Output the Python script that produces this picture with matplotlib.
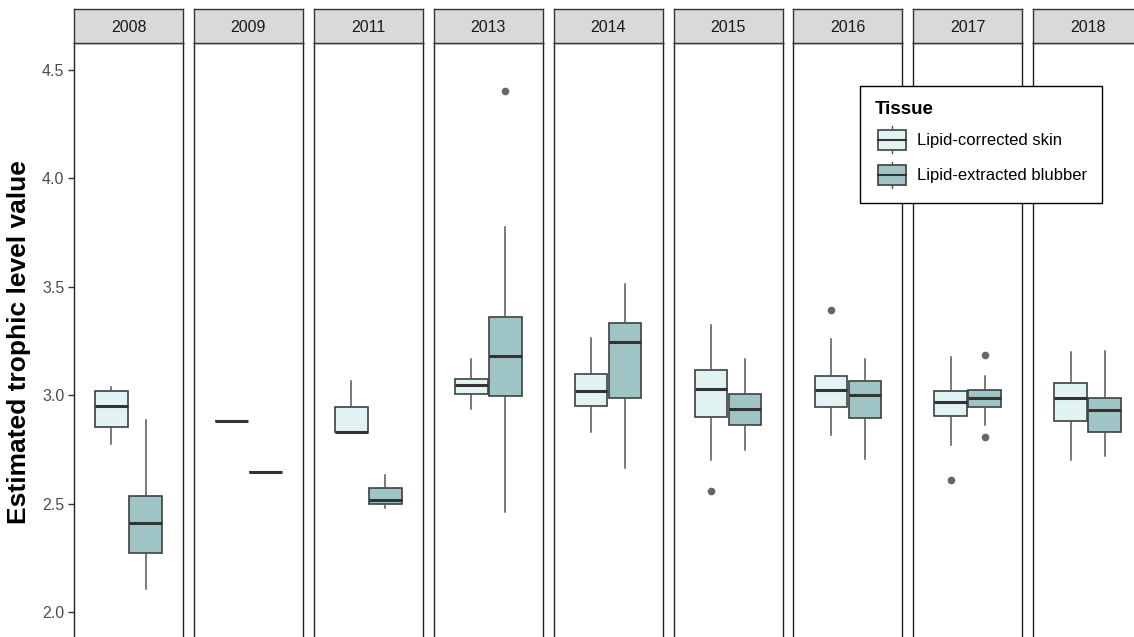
import matplotlib
matplotlib.use("Agg")
import matplotlib.pyplot as plt
from matplotlib.patches import Rectangle, Patch
from matplotlib.lines import Line2D
from matplotlib.legend_handler import HandlerBase

plt.rcParams['font.family'] = ['Liberation Sans', 'DejaVu Sans']

years = ["2008", "2009", "2011", "2013", "2014", "2015", "2016", "2017", "2018"]
tissues = ["Lipid-corrected skin", "Lipid-extracted blubber"]

# five-number summaries per year: (whisker low, q1, median, q3, whisker high)
skin_stats = [
    (2.777, 2.855, 2.951, 3.018, 3.038),
    (2.879, 2.879, 2.879, 2.879, 2.879),
    (2.832, 2.832, 2.832, 2.946, 3.065),
    (2.937, 3.005, 3.049, 3.075, 3.168),
    (2.829, 2.952, 3.020, 3.097, 3.266),
    (2.700, 2.900, 3.028, 3.115, 3.322),
    (2.815, 2.946, 3.022, 3.088, 3.257),
    (2.771, 2.902, 2.969, 3.018, 3.174),
    (2.700, 2.881, 2.989, 3.057, 3.200),
]
blubber_stats = [
    (2.106, 2.270, 2.409, 2.535, 2.885),
    (2.645, 2.645, 2.645, 2.645, 2.645),
    (2.480, 2.496, 2.517, 2.572, 2.632),
    (2.460, 2.998, 3.183, 3.360, 3.777),
    (2.662, 2.985, 3.246, 3.334, 3.511),
    (2.746, 2.862, 2.937, 3.006, 3.168),
    (2.705, 2.895, 3.001, 3.065, 3.168),
    (2.862, 2.946, 2.989, 3.024, 3.089),
    (2.720, 2.831, 2.932, 2.986, 3.206),
]
skin_outliers = [[], [], [], [], [], [2.558], [3.392], [2.611], []]
blubber_outliers = [[], [], [], [4.403], [], [], [], [3.186, 2.805], []]

fills = ["#E1F3F3", "#9FC4C5"]
edge = "#404040"

W, H = 1134, 637
fig = plt.figure(figsize=(W / 100, H / 100), dpi=100)

left0, step, pw = 74, 119.9, 109
top_px, bot_px, strip_h = 43, 642, 34
ylo = 2.0 - (bot_px - 612) / 216.7
yhi = 4.5 + (70 - top_px) / 216.7


def to_bxp(s, fl):
    lo, q1, med, q3, hi = s
    return dict(whislo=lo, q1=q1, med=med, q3=q3, whishi=hi, fliers=fl)


for i, yr in enumerate(years):
    x0 = left0 + i * step
    ax = fig.add_axes([x0 / W, 1 - bot_px / H, pw / W, (bot_px - top_px) / H])
    for k, (stats, outl) in enumerate([(skin_stats, skin_outliers),
                                       (blubber_stats, blubber_outliers)]):
        pos = 1 - 0.1875 if k == 0 else 1 + 0.1875
        ax.bxp([to_bxp(stats[i], outl[i])], positions=[pos], widths=0.36,
               patch_artist=True, showcaps=False,
               boxprops=dict(facecolor=fills[k], edgecolor=edge, linewidth=1.2),
               whiskerprops=dict(color="#555555", linewidth=1.1),
               medianprops=dict(color="#333333", linewidth=2.2),
               flierprops=dict(marker="o", markerfacecolor="#666666",
                               markeredgecolor="#666666", markersize=4.5))
    ax.set_xlim(0.4, 1.6)
    ax.set_ylim(ylo, yhi)
    ax.set_xticks([])
    for sp in ax.spines.values():
        sp.set_color("#222222")
        sp.set_linewidth(1.0)
    if i == 0:
        ax.set_yticks([2.0, 2.5, 3.0, 3.5, 4.0, 4.5])
        ax.set_yticklabels(["2.0", "2.5", "3.0", "3.5", "4.0", "4.5"])
        ax.tick_params(axis="y", length=4, width=1, color="#333333",
                       labelsize=11.5, labelcolor="#4D4D4D", pad=3)
        ax.set_ylabel("Estimated trophic level value", fontsize=19,
                      fontweight="bold", labelpad=8)
    else:
        ax.set_yticks([])

    # facet strip
    sax = fig.add_axes([x0 / W, 1 - top_px / H, pw / W, strip_h / H])
    sax.set_facecolor("#D9D9D9")
    sax.set_xticks([])
    sax.set_yticks([])
    for sp in sax.spines.values():
        sp.set_color("#333333")
        sp.set_linewidth(1.0)
    sax.text(0.5, 0.45, yr, ha="center", va="center", fontsize=11.5,
             color="#1A1A1A", transform=sax.transAxes)


class BoxGlyph(HandlerBase):
    def create_artists(self, legend, orig_handle, xdescent, ydescent,
                       width, height, fontsize, trans):
        w = width * 0.85
        x = -xdescent + (width - w) / 2
        y = -ydescent + height * 0.12
        h = height * 0.76
        cx = x + w / 2
        box = Rectangle((x, y), w, h, facecolor=orig_handle.get_facecolor(),
                        edgecolor=edge, linewidth=1.2, transform=trans)
        med = Line2D([x, x + w], [y + h / 2] * 2, color="#333333",
                     linewidth=1.5, transform=trans)
        wt = Line2D([cx, cx], [y + h, -ydescent + height], color="#555555",
                    linewidth=1.0, transform=trans)
        wb = Line2D([cx, cx], [-ydescent, y], color="#555555",
                    linewidth=1.0, transform=trans)
        return [wt, wb, box, med]


handles = [Patch(facecolor=fills[0]), Patch(facecolor=fills[1])]
leg = fig.legend(handles, tissues, handler_map={Patch: BoxGlyph()},
                 loc="upper left", bbox_to_anchor=(860 / W, 1 - 86 / H),
                 borderaxespad=0, fancybox=False, framealpha=1,
                 edgecolor="black", fontsize=12, title="Tissue",
                 title_fontproperties=dict(weight="bold", size=13.5),
                 alignment="left", handlelength=2.0, handleheight=2.1,
                 labelspacing=0.5, borderpad=0.9, handletextpad=0.5)
leg.get_frame().set_linewidth(1.0)

fig.savefig("out.png", dpi=100)
